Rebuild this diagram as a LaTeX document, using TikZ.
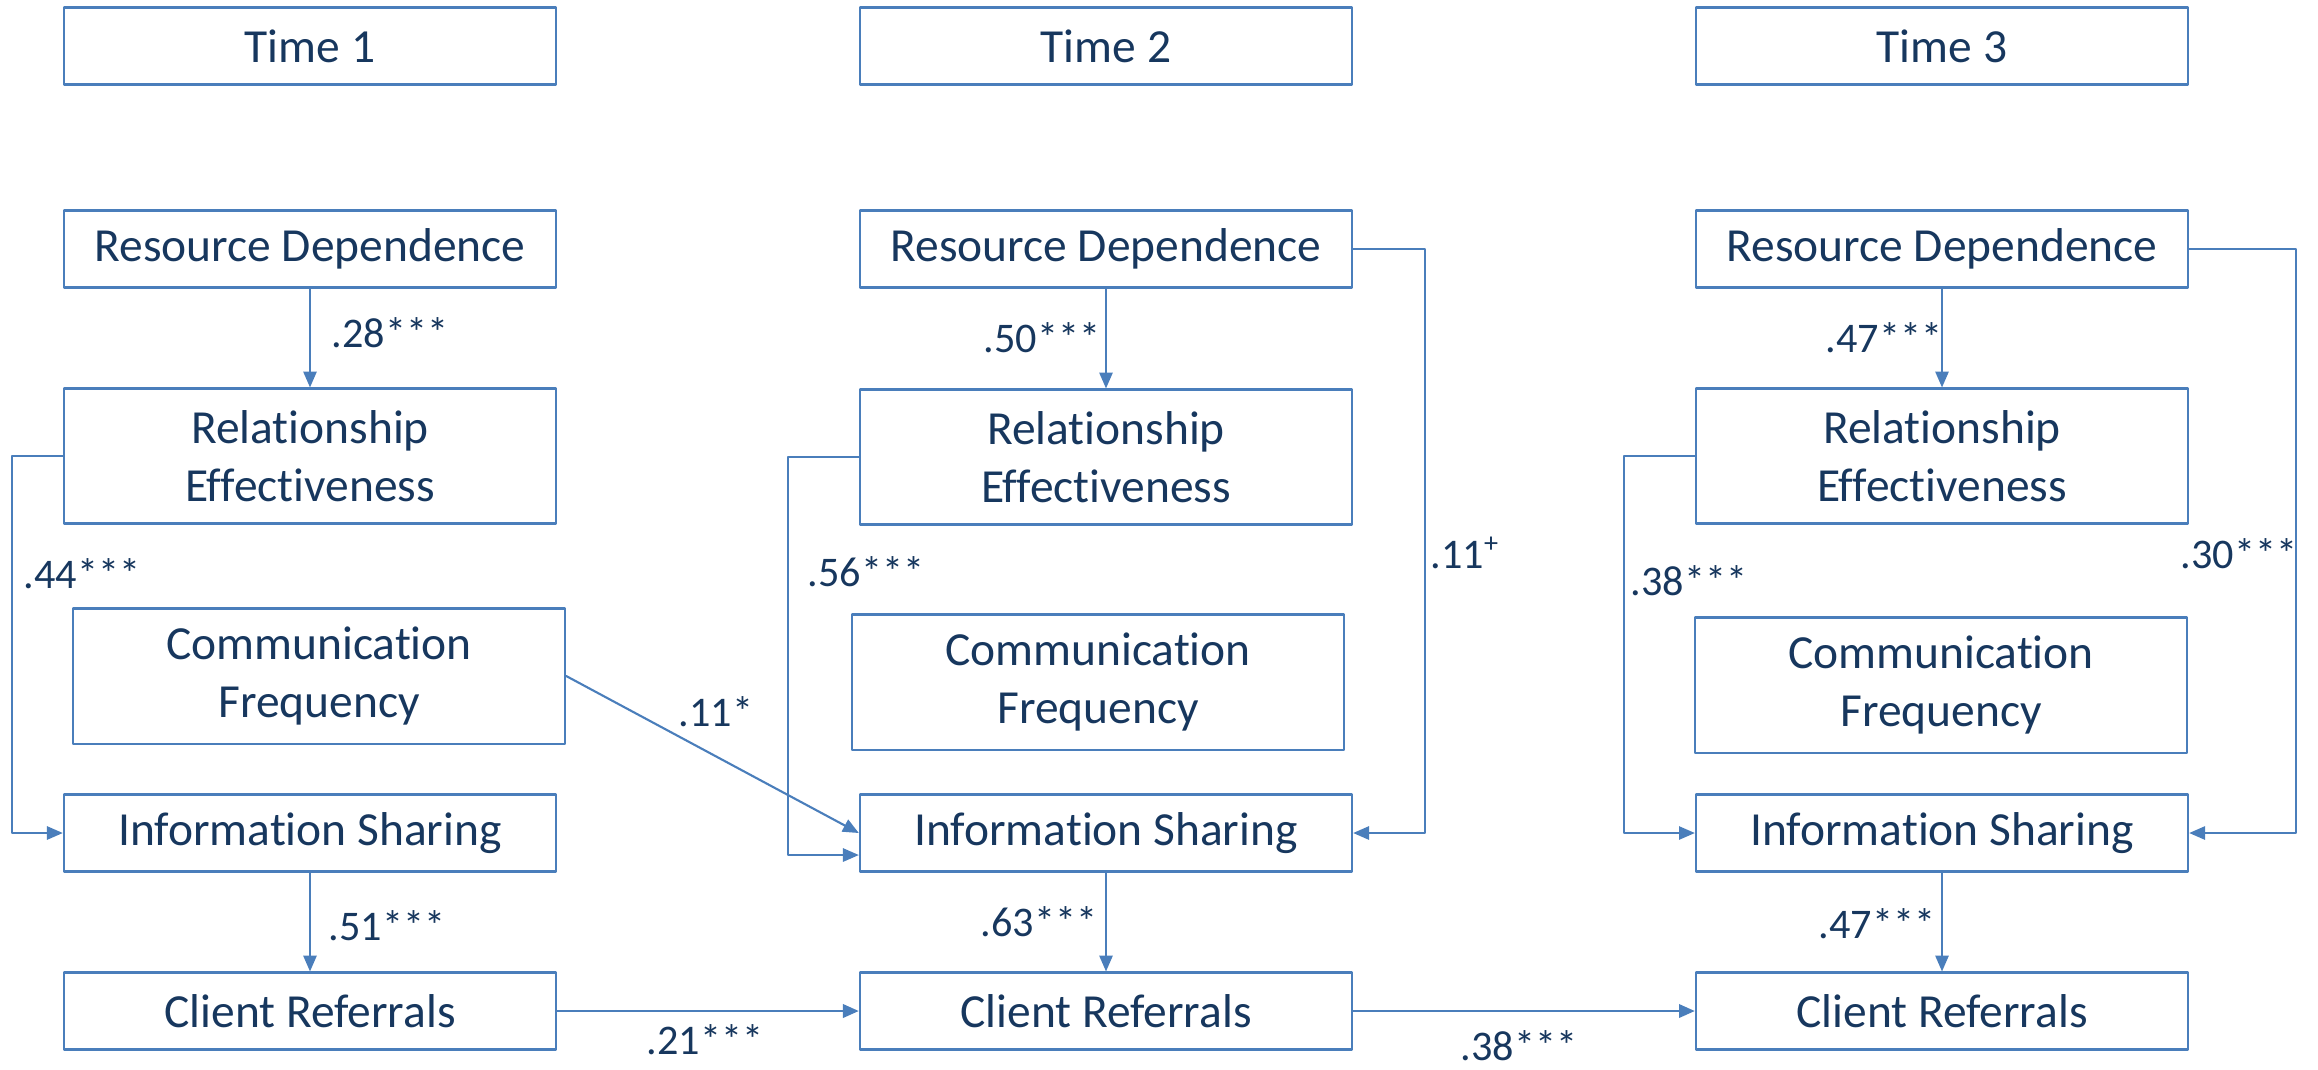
\documentclass[tikz,border=0pt]{standalone}
\usepackage{fontspec}
\setmainfont{Carlito}[Ligatures=NoCommon]
\usetikzlibrary{arrows.meta}
\definecolor{boxline}{RGB}{74,126,187}
\definecolor{textnavy}{RGB}{23,55,94}
\tikzset{
  varbox/.style={draw=boxline,line width=0.6pt,text=textnavy,align=center,inner sep=0pt,
    minimum width=4.92cm,font=\fontsize{13.5}{16.5}\selectfont},
  onebox/.style={varbox,minimum height=0.77cm},
  twobox/.style={varbox,minimum height=1.35cm},
  link/.style={draw=boxline,line width=0.45pt,->},
  coef/.style={anchor=base west,text=textnavy,inner sep=0pt,font=\fontsize{12}{14}\selectfont}
}

\begin{document}
\begin{tikzpicture}[line cap=round,line join=round,>={Triangle[length=4.5pt,width=3.8pt]},x=0.01cm,y=-0.01cm]
\useasboundingbox (0,0) rectangle (2318,1069);
% time headers
\node[onebox] (t1) at (310,46) {Time 1};
\node[onebox] (t2) at (1106,46) {Time 2};
\node[onebox] (t3) at (1942,46) {Time 3};
% time 1
\node[onebox] (rd1) at (310,249) {Resource Dependence};
\node[twobox] (re1) at (310,456) {Relationship\\Effectiveness};
\node[twobox] (cf1) at (319,676) {Communication\\Frequency};
\node[onebox] (is1) at (310,833) {Information Sharing};
\node[onebox] (cr1) at (310,1011) {Client Referrals};
% time 2
\node[onebox] (rd2) at (1106,249) {Resource Dependence};
\node[twobox] (re2) at (1106,457) {Relationship\\Effectiveness};
\node[twobox] (cf2) at (1098,682) {Communication\\Frequency};
\node[onebox] (is2) at (1106,833) {Information Sharing};
\node[onebox] (cr2) at (1106,1011) {Client Referrals};
% time 3
\node[onebox] (rd3) at (1942,249) {Resource Dependence};
\node[twobox] (re3) at (1942,456) {Relationship\\Effectiveness};
\node[twobox] (cf3) at (1941,685) {Communication\\Frequency};
\node[onebox] (is3) at (1942,833) {Information Sharing};
\node[onebox] (cr3) at (1942,1011) {Client Referrals};
% paths
\draw[link] (rd1) -- (re1);
\draw[link] (re1.west) -- ++(-51,0) |- (is1.west);
\draw[link] (is1) -- (cr1);
\draw[link] (rd2) -- (re2);
\draw[link] (re2.west) -- ++(-71,0) |- ([yshift=-0.22cm]is2.west);
\draw[link] (rd2.east) -- ++(72,0) |- (is2.east);
\draw[link] (is2) -- (cr2);
\draw[link] (rd3) -- (re3);
\draw[link] (re3.west) -- ++(-71,0) |- (is3.west);
\draw[link] (rd3.east) -- ++(107,0) |- (is3.east);
\draw[link] (is3) -- (cr3);
\draw[link,line width=0.6pt] (cf1.east) -- (is2.west);
\draw[link,line width=0.7pt] (cr1) -- (cr2);
\draw[link,line width=0.7pt] (cr2) -- (cr3);
% coefficients
\node[coef] (k28) at (331,347) {.28***};
\node[coef] (k44) at (23,588) {.44***};
\node[coef] (k51) at (328,940) {.51***};
\node[coef] (k11s) at (678,726) {.11*};
\node[coef] (k21) at (646,1054) {.21***};
\node[coef] (k50) at (983,352) {.50***};
\node[coef] (k56) at (807,586) {.56***};
\node[coef] (k11p) at (1430,568) {.11\textsuperscript{+}};
\node[coef] (k63) at (980,936) {.63***};
\node[coef] (k38b) at (1460,1060) {.38***};
\node[coef] (k47a) at (1825,352) {.47***};
\node[coef] (k38) at (1630,595) {.38***};
\node[coef] (k30) at (2180,568) {.30***};
\node[coef] (k47b) at (1818,938) {.47***};
\end{tikzpicture}
\end{document}
